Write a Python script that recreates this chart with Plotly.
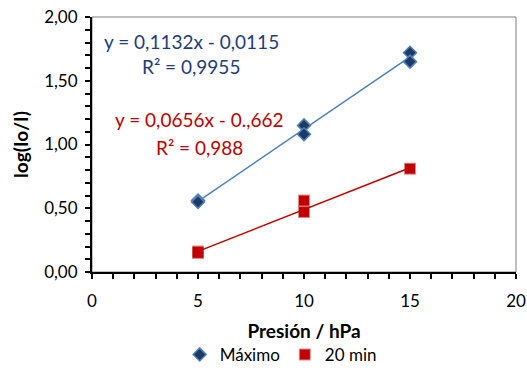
import plotly.graph_objects as go

# Measurements: pressure (hPa) vs log(Io/I)
pres_max = [5, 5, 10, 10, 15, 15]
logi_max = [0.56, 0.55, 1.15, 1.08, 1.72, 1.65]

pres_20 = [5, 5, 10, 10, 15]
logi_20 = [0.16, 0.15, 0.56, 0.47, 0.81]

# Linear trendlines as reported
slope_max, icpt_max, r2_max = 0.1132, -0.0115, "0,9955"
slope_20, icpt_20, r2_20 = 0.0656, -0.1662, "0,988"
trend_x = [5, 15]

x_ticks = [0, 5, 10, 15, 20]
y_ticks = [0.0, 0.5, 1.0, 1.5, 2.0]
y_tick_text = ["0,00", "0,50", "1,00", "1,50", "2,00"]

FONT = "Lato"
BLUE_LINE = "#4F81BD"
BLUE_FILL = "#1F3864"
BLUE_TEXT = "#1F3D7A"
RED = "#C00000"

fig = go.Figure()

fig.add_trace(go.Scatter(
    x=trend_x, y=[slope_max * x + icpt_max for x in trend_x],
    mode="lines", line=dict(color=BLUE_LINE, width=1.5),
    showlegend=False, hoverinfo="skip"))
fig.add_trace(go.Scatter(
    x=trend_x, y=[slope_20 * x + icpt_20 for x in trend_x],
    mode="lines", line=dict(color=RED, width=1.5),
    showlegend=False, hoverinfo="skip"))

fig.add_trace(go.Scatter(
    x=pres_max, y=logi_max, mode="markers", name="Máximo",
    marker=dict(symbol="diamond", size=10, color=BLUE_FILL,
                line=dict(color=BLUE_LINE, width=1.5))))
fig.add_trace(go.Scatter(
    x=pres_20, y=logi_20, mode="markers", name="20 min",
    marker=dict(symbol="square", size=10, color=RED,
                line=dict(color="rgba(192,0,0,0.45)", width=2))))

# Equation labels
ann_font = dict(family=FONT, size=19)
fig.add_annotation(x=4.67, y=1.806, text="y = 0,1132x - 0,0115", showarrow=False,
                   font=dict(ann_font, color=BLUE_TEXT))
fig.add_annotation(x=4.67, y=1.609, text=f"R² = {r2_max}", showarrow=False,
                   font=dict(ann_font, color=BLUE_TEXT))
fig.add_annotation(x=5.05, y=1.193, text="y = 0,0656x - 0.,662", showarrow=False,
                   font=dict(ann_font, color=RED))
fig.add_annotation(x=5.05, y=0.98, text=f"R² = {r2_20}", showarrow=False,
                   font=dict(ann_font, color=RED))

# Thin grey frame around the plot area
fig.add_shape(type="rect", xref="paper", yref="paper", x0=0, y0=0, x1=1, y1=1,
              line=dict(color="#808080", width=1), layer="below")

fig.update_layout(
    width=527, height=372,
    margin=dict(l=92, r=11, t=17, b=100, autoexpand=False),
    paper_bgcolor="white", plot_bgcolor="white",
    font=dict(family=FONT, size=17, color="#000000"),
    showlegend=True,
    legend=dict(orientation="h", x=0.445, xanchor="center", y=-0.325, yanchor="middle",
                font=dict(family=FONT, size=17), itemwidth=30, tracegroupgap=0),
)

fig.update_xaxes(
    range=[0, 20], tickvals=x_ticks, ticktext=[str(v) for v in x_ticks],
    showgrid=False, zeroline=False, automargin=False,
    showline=True, linecolor="black", linewidth=2,
    ticks="outside", ticklen=5, tickwidth=1.5, tickcolor="black",
    minor=dict(dtick=1, ticks="outside", ticklen=5, tickwidth=1.5, tickcolor="black"),
    ticklabelstandoff=8,
    title=dict(text="<b>Presión / hPa</b>", font=dict(family=FONT, size=19), standoff=14),
)
fig.update_yaxes(
    range=[0, 2], tickvals=y_ticks, ticktext=y_tick_text,
    showgrid=False, zeroline=False, automargin=False,
    showline=True, linecolor="black", linewidth=2,
    ticks="outside", ticklen=5, tickwidth=1.5, tickcolor="black",
    minor=dict(dtick=0.1, ticks="outside", ticklen=5, tickwidth=1.5, tickcolor="black"),
    ticklabelstandoff=4,
    title=dict(text="<b>log(Io/I)</b>", font=dict(family=FONT, size=19), standoff=10),
)

fig.write_html("out.html")
